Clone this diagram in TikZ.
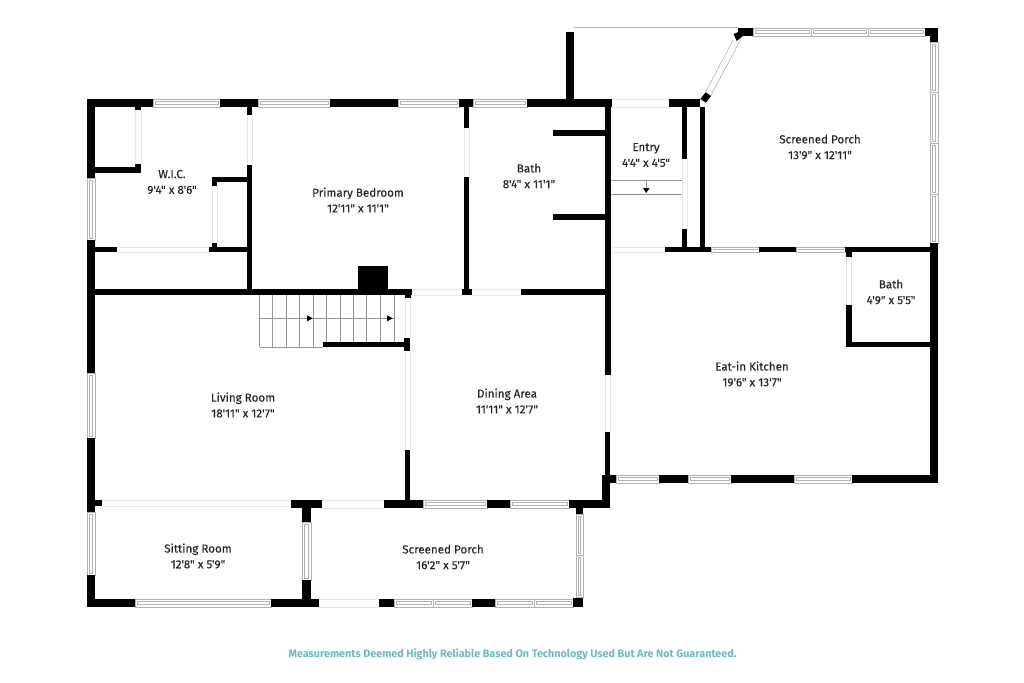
\documentclass[tikz,border=0pt]{standalone}
\usepackage{fontspec}
\setmainfont{Fira Sans}[Ligatures=ResetAll]
\newfontfamily\labelfont{Fira Sans}[Ligatures=ResetAll,FakeBold=0.25]
\usepackage{tikz}
\tikzset{
    wall/.style={fill=black},
    glass/.style={draw=black!30,line width=0.6pt,fill=white},
    gap/.style={draw=black!9,line width=0.8pt},
    tread/.style={draw=black!42,line width=0.5pt},
    roomlabel/.style={align=center,text=black!85,inner sep=0pt,font=\labelfont\fontsize{11.6}{15.7}\selectfont},
}
\begin{document}
\begin{tikzpicture}[x=1pt,y=-1pt]
    \useasboundingbox (0,0) rectangle (1024,682);

    % door openings
    \foreach \xa/\xb/\ya/\yb in {102/291/500/506,322/384/500/508,319/379/599/607,117/209/247/252,412/462/289/295,472/521/289/295,612/669/99/107,610/665/247/252}{
    \draw[gap] (\xa,\ya) -- (\xb,\ya);
    \draw[gap] (\xa,\yb) -- (\xb,\yb);
    }
    \foreach \xa/\xb/\ya/\yb in {135/141/110/164,247/252/115/165,212/217/186/243,464/469/128/177,682/687/159/229,846/851/257/305,405/410/298/338,405/410/351/450,605/610/375/432}{
    \draw[gap] (\xa,\ya) -- (\xa,\yb);
    \draw[gap] (\xb,\ya) -- (\xb,\yb);
    }

    % windows, horizontal then vertical
    \foreach \xa/\xb/\ya/\yb in {153/220/99/107,258/330/99/107,398/459/99/107,473/527/99/107,
    423/487/500/508,510/569/500/508,135/271/599/607,
    394/433/599/607,433/472/599/607,495/534/599/607,534/573/599/607,
    616/659/475/483,688/731/475/483,794/852/475/483,
    711/759/247/252,796/845/247/252,
    753/811/28/36,811/868/28/36,868/925/28/36}{
    \draw[glass] (\xa,\ya) rectangle (\xb,\yb);
    \draw[glass] (\xa+2,\ya+2.6) rectangle (\xb-2,\yb-2.6);
    }
    \foreach \xa/\xb/\ya/\yb in {87/95/178/240,87/95/373/438,87/95/512/575,302/311/522/580,
    576/583/514/555,576/583/555/597,
    930/938/42/92,930/938/92/143,930/938/143/194,930/938/194/243}{
    \draw[glass] (\xa,\ya) rectangle (\xb,\yb);
    \draw[glass] (\xa+2.6,\ya+2) rectangle (\xb-2.6,\yb-2);
    }
    \draw[glass] (733,40) -- (703,97);
    \draw[glass] (741,39) -- (710,97);
    \draw[draw=black!30,line width=0.6pt] (574,27) -- (738,27);

    % walls
    \foreach \xa/\ya/\xb/\yb in {87/99/153/107,220/99/258/107,330/99/398/107,459/99/473/107,527/99/612/107,669/99/700/107,
    87/99/95/178,87/240/95/373,87/438/95/512,87/575/95/607,
    87/599/135/607,271/599/319/607,379/599/394/607,472/599/495/607,573/598/583/607,
    95/500/102/506,291/500/322/508,384/500/423/508,487/500/510/508,569/500/610/508,
    302/500/311/522,302/580/311/600,576/508/583/514,405/450/410/500,
    602/475/610/508,602/475/616/483,605/432/610/480,659/475/688/483,731/475/794/483,852/475/938/483,
    930/243/938/483,925/28/938/36,930/28/938/42,
    738/28/753/36,566/32/574/99,
    95/289/412/295,405/295/411/298,358/266/388/290,
    135/107/141/110,135/164/141/173,95/167/141/173,
    247/107/252/115,247/165/252/289,212/177/247/182,212/182/217/186,
    212/243/217/247,209/247/247/252,95/247/117/252,
    464/107/469/128,464/177/469/289,462/289/472/295,521/289/605/295,
    605/107/611/375,553/130/605/136,553/214/605/220,
    682/107/687/159,682/229/687/250,700/107/705/248,
    665/247/711/252,759/247/796/252,845/247/930/252,846/252/852/257,
    846/305/852/347,846/342/930/347,
    323/342/405/347,404/338/410/351}{
    \fill[wall] (\xa,\ya) rectangle (\xb,\yb);
    }
    \fill[wall] (705.7,92.3) -- (711,96) -- (706,102.7) -- (700.3,99) -- cycle;
    \fill[wall] (733.5,34) -- (739.5,31.5) -- (742.5,36.5) -- (736.7,41) -- cycle;

    % stairs
    \foreach \x in {259.5,272.7,286,299.3,313.3}{
    \draw[tread] (\x,295) -- (\x,347);
    }
    \foreach \x in {326.7,340,353.3,366.7,380,394}{
    \draw[tread] (\x,295) -- (\x,342);
    }
    \draw[tread] (259.5,347) -- (323,347);
    \draw[tread] (259.5,318.3) -- (394,318.3);
    \foreach \x in {307,387}{
    \fill[wall] (\x,315.3) -- (\x+5.7,318.3) -- (\x,321.3) -- cycle;
    }

    % entry steps
    \draw[tread] (611,180) -- (682,180);
    \draw[tread] (611,194) -- (682,194);
    \draw[tread] (646,180) -- (646,189);
    \fill[wall] (643,188) -- (649.5,188) -- (646.2,193) -- cycle;

    % rooms
    \node[roomlabel] (wic) at (172,182) {W.I.C.\\9'4" x 8'6"};
    \node[roomlabel] (bedroom) at (358,200) {Primary Bedroom\\12'11" x 11'1"};
    \node[roomlabel] (bath_a) at (529,176) {Bath\\8'4" x 11'1"};
    \node[roomlabel] (entry) at (646,155) {Entry\\4'4" x 4'5"};
    \node[roomlabel] (porch_a) at (820,147) {Screened Porch\\13'9" x 12'11"};
    \node[roomlabel] (bath_b) at (891,292) {Bath\\4'9" x 5'5"};
    \node[roomlabel] (kitchen) at (752,374) {Eat-in Kitchen\\19'6" x 13'7"};
    \node[roomlabel] (living) at (243,405) {Living Room\\18'11" x 12'7"};
    \node[roomlabel] (dining) at (507,401) {Dining Area\\11'11" x 12'7"};
    \node[roomlabel] (sitting) at (198,556) {Sitting Room\\12'8" x 5'9"};
    \node[roomlabel] (porch_b) at (443,557) {Screened Porch\\16'2" x 5'7"};
    \node[inner sep=0pt,text={rgb,255:red,107;green,185;blue,189},font=\fontsize{10.8}{12}\selectfont\bfseries] (note) at (512.5,654) {Measurements Deemed Highly Reliable Based On Technology Used But Are Not Guaranteed.};
\end{tikzpicture}
\end{document}
